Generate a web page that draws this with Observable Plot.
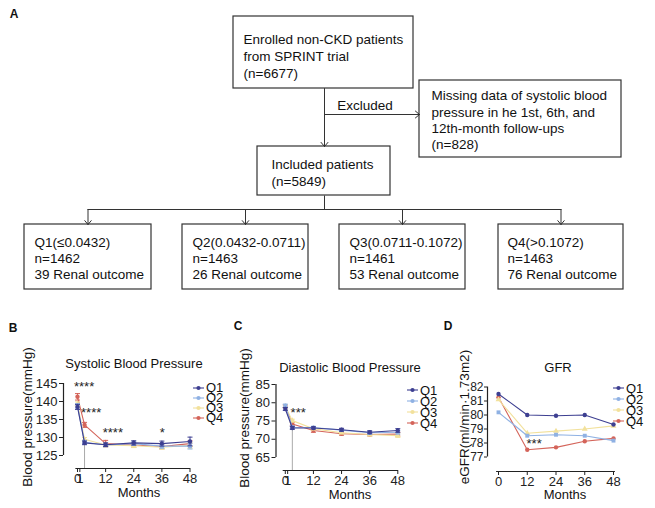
<!DOCTYPE html>
<html><head><meta charset="utf-8">
<script src="https://cdn.jsdelivr.net/npm/d3@7"></script>
<script src="https://cdn.jsdelivr.net/npm/@observablehq/plot@0.6"></script>
<style>
body{margin:0;background:#fff;}
#fig{position:relative;width:655px;height:508px;font-family:"Liberation Sans",Arial,sans-serif;color:#111;overflow:hidden;background:#fff;}
.abs{position:absolute;white-space:nowrap;}
.c{transform:translate(-50%,-50%);}
.letter{font-weight:bold;font-size:12px;}
.ttl{font-size:13px;}
.ylab{font-size:13.5px;transform:translate(-50%,-50%) rotate(-90deg);}
.legend .row{display:flex;align-items:center;font-size:13px;}
.legend svg{display:block;}
svg{overflow:visible;}
</style></head><body><div id="fig"></div><script>
// ---------------- data ----------------
const groups = ["Q1", "Q2", "Q3", "Q4"];
const groupColors = ["#3d3f91", "#8fb1e3", "#f2e19c", "#d4645a"];
const groupSymbols = ["circle", "square", "triangle", "circle"];

const bpMonths = [0, 1, 12, 24, 36, 48];
const sbpQ1 = [138.5, 128.5, 128.0, 128.5, 128.3, 128.9];
const sbpQ2 = [138.8, 128.7, 127.9, 128.3, 127.6, 127.6];
const sbpQ3 = [139.3, 129.5, 127.9, 127.7, 127.3, 127.8];
const sbpQ4 = [141.3, 133.5, 128.3, 127.9, 127.5, 128.3];
const sbpErrQ1 = [0.7, 0.5, 0.5, 0.6, 0.7, 1.2];
const sbpErrQ2 = [0.6, 0.5, 0.5, 0.5, 0.6, 0.8];
const sbpErrQ3 = [0.6, 0.5, 0.5, 0.5, 0.6, 0.8];
const sbpErrQ4 = [0.9, 0.7, 0.9, 0.6, 0.7, 0.8];

const dbpQ1 = [78.3, 73.1, 73.1, 72.6, 71.9, 72.4];
const dbpQ2 = [79.2, 73.3, 73.2, 72.5, 71.8, 71.9];
const dbpQ3 = [79.0, 75.1, 72.9, 71.8, 71.3, 71.0];
const dbpQ4 = [79.0, 74.2, 72.4, 71.5, 71.3, 71.4];
const dbpErrQ1 = [0.4, 0.4, 0.3, 0.4, 0.4, 0.5];
const dbpErrQ2 = [0.4, 0.3, 0.3, 0.3, 0.4, 0.5];
const dbpErrQ3 = [0.4, 0.4, 0.3, 0.3, 0.4, 0.5];
const dbpErrQ4 = [0.4, 0.4, 0.5, 0.4, 0.4, 0.5];

const gfrMonths = [0, 12, 24, 36, 48];
const gfrQ1 = [81.5, 80.0, 79.95, 80.0, 79.32];
const gfrQ2 = [80.19, 78.52, 78.59, 78.52, 78.17];
const gfrQ3 = [81.1, 78.7, 78.85, 79.0, 79.22];
const gfrQ4 = [81.26, 77.52, 77.69, 78.12, 78.33];

const bpXTicks = [0, 1, 12, 24, 36, 48];
const gfrXTicks = [0, 12, 24, 36, 48];
const sbpYTicks = [125, 130, 135, 140, 145];
const dbpYTicks = [65, 70, 75, 80, 85];
const gfrYTicks = [77, 78, 79, 80, 81, 82];

const sbpStars = [{month: -1.5, value: 145, text: "****"}, {month: 0.5, value: 137.9, text: "****"}, {month: 10.5, value: 132.4, text: "****"}, {month: 35.1, value: 132.4, text: "*"}];
const dbpStars = [{month: 0.75, value: 78.15, text: "***"}];
const gfrStars = [{month: 11.7, value: 78.2, text: "***"}];

// flowchart texts
const flowTexts = [
  "Enrolled non-CKD patients\nfrom SPRINT trial\n(n=6677)",
  "Missing data of systolic blood\npressure in he 1st, 6th, and\n12th-month follow-ups\n(n=828)",
  "Included patients\n(n=5849)",
  "Q1(≤0.0432)\nn=1462\n39 Renal outcome",
  "Q2(0.0432-0.0711)\nn=1463\n26 Renal outcome",
  "Q3(0.0711-0.1072)\nn=1461\n53 Renal outcome",
  "Q4(>0.1072)\nn=1463\n76 Renal outcome"
];
const excludedText = "Excluded";

// ---------------- layout (pixels) ----------------
const flowBoxes = [[233, 413, 16, 88], [419, 621, 80, 157], [257, 390, 146, 195], [24, 151, 224, 289], [182, 308, 224, 289], [339, 465, 224, 289], [498, 623, 224, 289]];
const flowTextPos = [[243, 55, 17], [431, 119, 16.2], [271, 171.5, 17], [34, 257.5, 15.6], [192, 257.5, 15.6], [349, 257.5, 15.6], [507, 257.5, 15.6]];
const flowLines = [[324, 195, 324, 209], [87, 209, 561, 209]];
const flowArrows = [[324, 88, 324, 146], [324, 114, 419, 114], [87.5, 209, 87.5, 224], [245, 209, 245, 224], [402, 209, 402, 224], [560.5, 209, 560.5, 224]];

const fig = document.getElementById("fig");
const FONT = '"Liberation Sans", Arial, sans-serif';

function place(el, left, top) { el.style.position = "absolute"; el.style.left = left + "px"; el.style.top = top + "px"; fig.appendChild(el); }
function label(text, x, y, cls) { const d = document.createElement("div"); d.className = "abs " + cls; d.textContent = text; d.style.left = x + "px"; d.style.top = y + "px"; fig.appendChild(d); }

// ---------------- flowchart ----------------
const boxes = flowBoxes.map(([x1, x2, y1, y2]) => ({x1, x2, y1, y2}));
const flow = Plot.plot({
  width: 655, height: 300, margin: 0,
  x: {domain: [0, 655], range: [0, 655], axis: null},
  y: {domain: [0, 300], range: [0, 300], axis: null},
  style: {fontFamily: FONT, fontSize: "13.5px", background: "transparent", color: "#111"},
  marks: [
    Plot.rect(boxes, {x1: "x1", x2: "x2", y1: "y1", y2: "y2", fill: "white", stroke: "#333", strokeWidth: 1.2}),
    ...flowTexts.map((t, i) => Plot.text([t], {x: flowTextPos[i][0], y: flowTextPos[i][1], text: d => d, textAnchor: "start", lineAnchor: "middle", lineHeight: flowTextPos[i][2] / 13.5, fontSize: 13.5, fill: "#111"})),
    Plot.link(flowLines, {x1: d => d[0], y1: d => d[1], x2: d => d[2], y2: d => d[3], stroke: "#333", strokeWidth: 1}),
    Plot.arrow(flowArrows, {x1: d => d[0], y1: d => d[1], x2: d => d[2], y2: d => d[3], stroke: "#333", strokeWidth: 1, headLength: 8, headAngle: 80}),
    Plot.text([excludedText], {x: 364.5, y: 105, text: d => d, fontSize: 13.5, fill: "#111"})
  ]
});
place(flow, 0, 0);
label("A", 14, 14, "letter c");

// ---------------- charts ----------------
const capSymbol = {draw(ctx) { ctx.moveTo(-2.5, 0); ctx.lineTo(2.5, 0); }};
// GraphPad-style spacing of the first follow-up visit on the month axis
const bpWarp = d3.scaleLinear().domain([-20, 0, 1, 12, 48]).range([-20, 0, 3.0, 12, 48]);

function rowsFrom(months, seriesList, errList) {
  return seriesList.flatMap((vals, gi) => vals.map((v, i) => ({group: groups[gi], month: months[i], value: v, err: errList ? errList[gi][i] : 0})));
}

function drawChart(cfg) {
  const rows = rowsFrom(cfg.months, cfg.series, cfg.errs);
  const tMin = d3.min(cfg.yTicks), tMax = d3.max(cfg.yTicks);
  const ppu = (cfg.tickPx[0] - cfg.tickPx[1]) / (tMax - tMin);
  const yFloor = tMin - (cfg.axisPx - cfg.tickPx[0]) / ppu;
  const xppu = (cfg.xRange[1] - cfg.zeroPx) / 48;
  const xMin = -(cfg.zeroPx - cfg.xRange[0]) / xppu;
  const order = groups.slice().reverse();
  const yf = cfg.yFont || 13;
  const marks = [
    Plot.ruleX([xMin], {y1: tMin, y2: tMax, stroke: "#222", strokeWidth: 1.2}),
    Plot.ruleY([yFloor], {x1: cfg.xLine[0], x2: cfg.xLine[1], stroke: "#222", strokeWidth: 1.2}),
    Plot.axisY({ticks: cfg.yTicks, tickSize: cfg.yTickSize || 4, tickPadding: cfg.yTickPad ?? 2, label: null, fontSize: yf, tickFormat: d => String(d)}),
    Plot.axisX({ticks: cfg.xTicks, tickSize: 4, tickPadding: 1, label: null, fontSize: 13, tickFormat: d => String(d)})
  ];
  if (cfg.guide !== undefined) {
    const top = d3.min(rows.filter(r => r.month === cfg.guide), r => r.value);
    marks.push(Plot.ruleX([cfg.guide], {y1: yFloor, y2: top, stroke: "#aaa", strokeWidth: 1}));
  }
  order.forEach(g => {
    const gi = groups.indexOf(g);
    const col = groupColors[gi];
    const r = rows.filter(d => d.group === g);
    if (cfg.errs) {
      marks.push(Plot.ruleX(r, {x: "month", y1: d => d.value - d.err, y2: d => d.value + d.err, stroke: col, strokeWidth: 1}));
      marks.push(Plot.dot(r, {x: "month", y: d => d.value + d.err, symbol: capSymbol, fill: "none", stroke: col, strokeWidth: 1}));
      marks.push(Plot.dot(r, {x: "month", y: d => d.value - d.err, symbol: capSymbol, fill: "none", stroke: col, strokeWidth: 1}));
    }
    marks.push(Plot.line(r, {x: "month", y: "value", stroke: col, strokeWidth: 1.1}));
    marks.push(Plot.dot(r, {x: "month", y: "value", symbol: groupSymbols[gi], fill: col, stroke: "none", r: 2.2}));
  });
  marks.push(Plot.text(cfg.stars, {x: "month", y: "value", text: "text", textAnchor: "start", dy: 3.5, fontSize: 13, fill: "#222"}));
  const xScale = {domain: [xMin, 48], range: cfg.xRange, label: null};
  if (cfg.warp) xScale.transform = cfg.warp;
  const svg = Plot.plot({
    width: cfg.width, height: 198,
    marginLeft: cfg.xRange[0], marginRight: 0, marginTop: 0, marginBottom: 198 - cfg.axisPx,
    x: xScale,
    y: {domain: [yFloor, tMax], range: [cfg.axisPx, cfg.tickPx[1]], label: null},
    style: {fontFamily: FONT, fontSize: "13px", background: "transparent", color: "#222", overflow: "visible"},
    marks
  });
  place(svg, cfg.left, 310);
}

function legend(left, top, spacing) {
  const d = document.createElement("div");
  d.className = "legend";
  groups.forEach((g, i) => {
    const row = document.createElement("div");
    row.className = "row";
    row.style.height = spacing + "px";
    row.style.lineHeight = spacing + "px";
    const c = groupColors[i];
    row.innerHTML = `<svg width="12" height="8"><line x1="0" x2="11" y1="4" y2="4" stroke="${c}" stroke-width="1.1"/><circle cx="5.5" cy="4" r="2.1" fill="${c}"/></svg><span style="margin-left:1px">${g}</span>`;
    d.appendChild(row);
  });
  place(d, left, top);
}

// B: systolic  (xRange: [y-axis px, px of month 48]; zeroPx = px of month 0; px relative to the panel's svg)
drawChart({
  left: 0, width: 225,
  months: bpMonths, series: [sbpQ1, sbpQ2, sbpQ3, sbpQ4], errs: [sbpErrQ1, sbpErrQ2, sbpErrQ3, sbpErrQ4],
  xRange: [63, 189.5], zeroPx: 77, warp: bpWarp, xLine: [-0.7, 48.2], xTicks: bpXTicks,
  yTicks: sbpYTicks, tickPx: [145, 73], axisPx: 158, guide: 1, stars: sbpStars
});
// C: diastolic
drawChart({
  left: 225, width: 215,
  months: bpMonths, series: [dbpQ1, dbpQ2, dbpQ3, dbpQ4], errs: [dbpErrQ1, dbpErrQ2, dbpErrQ3, dbpErrQ4],
  xRange: [50.5, 172.3], zeroPx: 59.8, warp: bpWarp, xLine: [-0.9, 48.3], xTicks: bpXTicks,
  yTicks: dbpYTicks, tickPx: [147, 74], axisPx: 160, guide: 1, stars: dbpStars
});
// D: GFR
drawChart({
  left: 440, width: 215,
  months: gfrMonths, series: [gfrQ1, gfrQ2, gfrQ3, gfrQ4], errs: null,
  xRange: [47, 173], zeroPx: 58, xLine: [-0.8, 48.8], xTicks: gfrXTicks,
  yTicks: gfrYTicks, tickPx: [146.5, 76.5], axisPx: 161, stars: gfrStars,
  yFont: 12, yTickSize: 3, yTickPad: 1
});

// panel texts
label("B", 13, 328, "letter c");
label("C", 238, 326, "letter c");
label("D", 448, 326, "letter c");
label("Systolic Blood Pressure", 134, 363, "ttl c");
label("Diastolic Blood Pressure", 350, 367, "ttl c");
label("GFR", 558, 367, "ttl c");
label("Blood pressure(mmHg)", 27, 417, "ylab");
label("Blood pressure(mmHg)", 244, 418, "ylab");
label("eGFR(ml/min·1.73m2)", 464, 417, "ylab");
label("Months", 139, 492, "ttl c");
label("Months", 350, 494, "ttl c");
label("Months", 565, 494, "ttl c");
legend(193, 383, 10);
legend(407, 384.5, 11);
legend(613, 382.5, 11);
</script></body></html>
